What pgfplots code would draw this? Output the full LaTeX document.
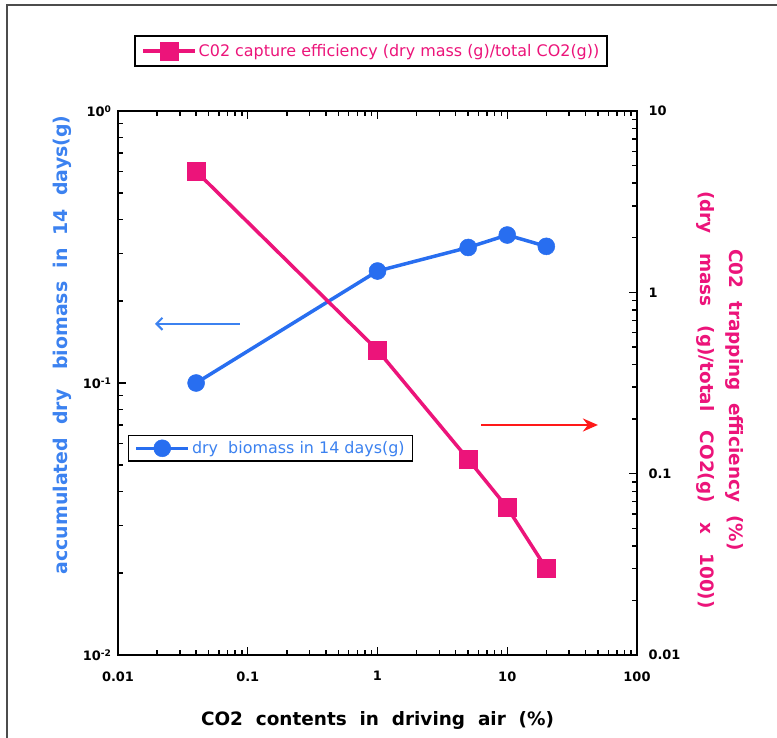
\documentclass[border=0pt]{standalone}
\usepackage{fontspec}
\setmainfont{DejaVu Sans}
\usepackage{pgfplots}
\usepackage{pgfplotstable}
\pgfplotsset{compat=1.18}
\usetikzlibrary{arrows.meta}

\definecolor{cpink}{RGB}{236,20,122}
\definecolor{cblue}{RGB}{40,110,240}
\definecolor{cred}{RGB}{255,25,25}
\definecolor{lblue}{RGB}{60,130,240}

% values
\pgfplotstableread{
x     y
0.04  0.100
1     0.258
5     0.315
10    0.350
20    0.318
}\biomass
\pgfplotstableread{
x     y
0.04  4.65
1     0.48
5     0.120
10    0.065
20    0.030
}\capture

\begin{document}
\begin{tikzpicture}
\useasboundingbox (-118bp,-83bp) rectangle (659bp,655bp);

\begin{axis}[
    at={(0,0)}, anchor=south west,
    scale only axis, width=519bp, height=544bp,
    xmode=log, ymode=log, xmin=0.01, xmax=100,
    ymin=0.01, ymax=1,
    axis line style={line width=2.2bp},
    tick align=inside,
    every tick/.style={black, line width=1.4bp},
    major tick length=8bp, minor tick length=5bp,
    tick label style={font=\fontsize{13}{13}\selectfont\bfseries},
    xtick pos=both, ytick pos=left,
    xticklabels={,0.01,0.1,1,10,100},
    yticklabels={,10\textsuperscript{-2},10\textsuperscript{-1},10\textsuperscript{0}},
    xticklabel style={yshift=-13bp},
    yticklabel style={xshift=-3bp},
    xlabel={CO2\ \ contents\ \ in\ \ driving\ \ air\ \ (\%)},
    xlabel style={at={(axis description cs:0.5,0)}, yshift=-65bp, anchor=center,
      font=\fontsize{18.5}{18.5}\selectfont\bfseries},
    ylabel={accumulated\ \ dry\ \ \ biomass\ \ in\ \ 14\ \ days(g)},
    ylabel style={at={(axis description cs:-0.108,0.570)}, anchor=center,
      font=\fontsize{19}{19}\selectfont\bfseries, text=lblue},
    legend style={at={(axis description cs:0.294,0.380)}, anchor=center,
      draw=black, line width=1.4bp, text=lblue,
      font=\fontsize{16}{16}\selectfont, inner xsep=6bp, inner ysep=4bp},
    legend image code/.code={\draw[mark repeat=2,mark phase=2]
      plot coordinates {(0bp,0bp) (26bp,0bp) (52bp,0bp)};},
]
\addplot[cblue, line width=3.5bp, mark=*, mark size=8.5bp,
  mark options={fill=cblue, draw=cblue, line width=0.5bp}] table[x=x,y=y] {\biomass};
\addlegendentry{dry\ \ biomass in 14 days(g)}

\draw[lblue, line width=2bp, -{Straight Barb[length=6bp,width=12bp]}]
  (axis cs:0.087,0.165) -- (axis cs:0.0193,0.165);
\draw[cred, line width=2.5bp, -{Stealth[length=15bp,width=13bp,inset=5bp]}]
  (axis cs:6.28,0.0701) -- (axis cs:50,0.0701);
\end{axis}

\begin{axis}[
    at={(0,0)}, anchor=south west,
    scale only axis, width=519bp, height=544bp,
    xmode=log, ymode=log, xmin=0.01, xmax=100,
    ymin=0.01, ymax=10,
    axis line style={line width=2.2bp},
    tick align=inside,
    every tick/.style={black, line width=1.4bp},
    major tick length=8bp, minor tick length=5bp,
    tick label style={font=\fontsize{13}{13}\selectfont\bfseries},
    hide x axis,
    axis y line*=right,
    ytick pos=right,
    yticklabels={,0.01,0.1,1,10},
    yticklabel style={xshift=8bp},
    ylabel={C02\ \ trapping\ \ efficiency\ \ (\%)\\(dry\ \ \ mass\ \ \ (g)/total\ \ \ CO2(g)\ \ \ x\ \ \ 100))},
    ylabel style={at={(axis description cs:1.160,0.469)}, anchor=center, rotate=180,
      align=center, font=\fontsize{18.5}{30}\selectfont\bfseries, text=cpink},
    legend style={at={(axis description cs:0.488,1.110)}, anchor=center,
      draw=black, line width=1.6bp, text=cpink,
      font=\fontsize{16}{16}\selectfont, inner xsep=6bp, inner ysep=6bp},
    legend image code/.code={\draw[mark repeat=2,mark phase=2]
      plot coordinates {(0bp,0bp) (26bp,0bp) (52bp,0bp)};},
]
\addplot[cpink, line width=3.5bp, mark=square*, mark size=9bp,
  mark options={fill=cpink, draw=cpink, line width=0.5bp}] table[x=x,y=y] {\capture};
\addlegendentry{C02 capture efficiency (dry mass (g)/total CO2(g))}
\end{axis}

\draw[black!70, line width=1.5bp] (-111bp,-83bp) -- (-111bp,650bp) -- (659bp,650bp);
\end{tikzpicture}
\end{document}
